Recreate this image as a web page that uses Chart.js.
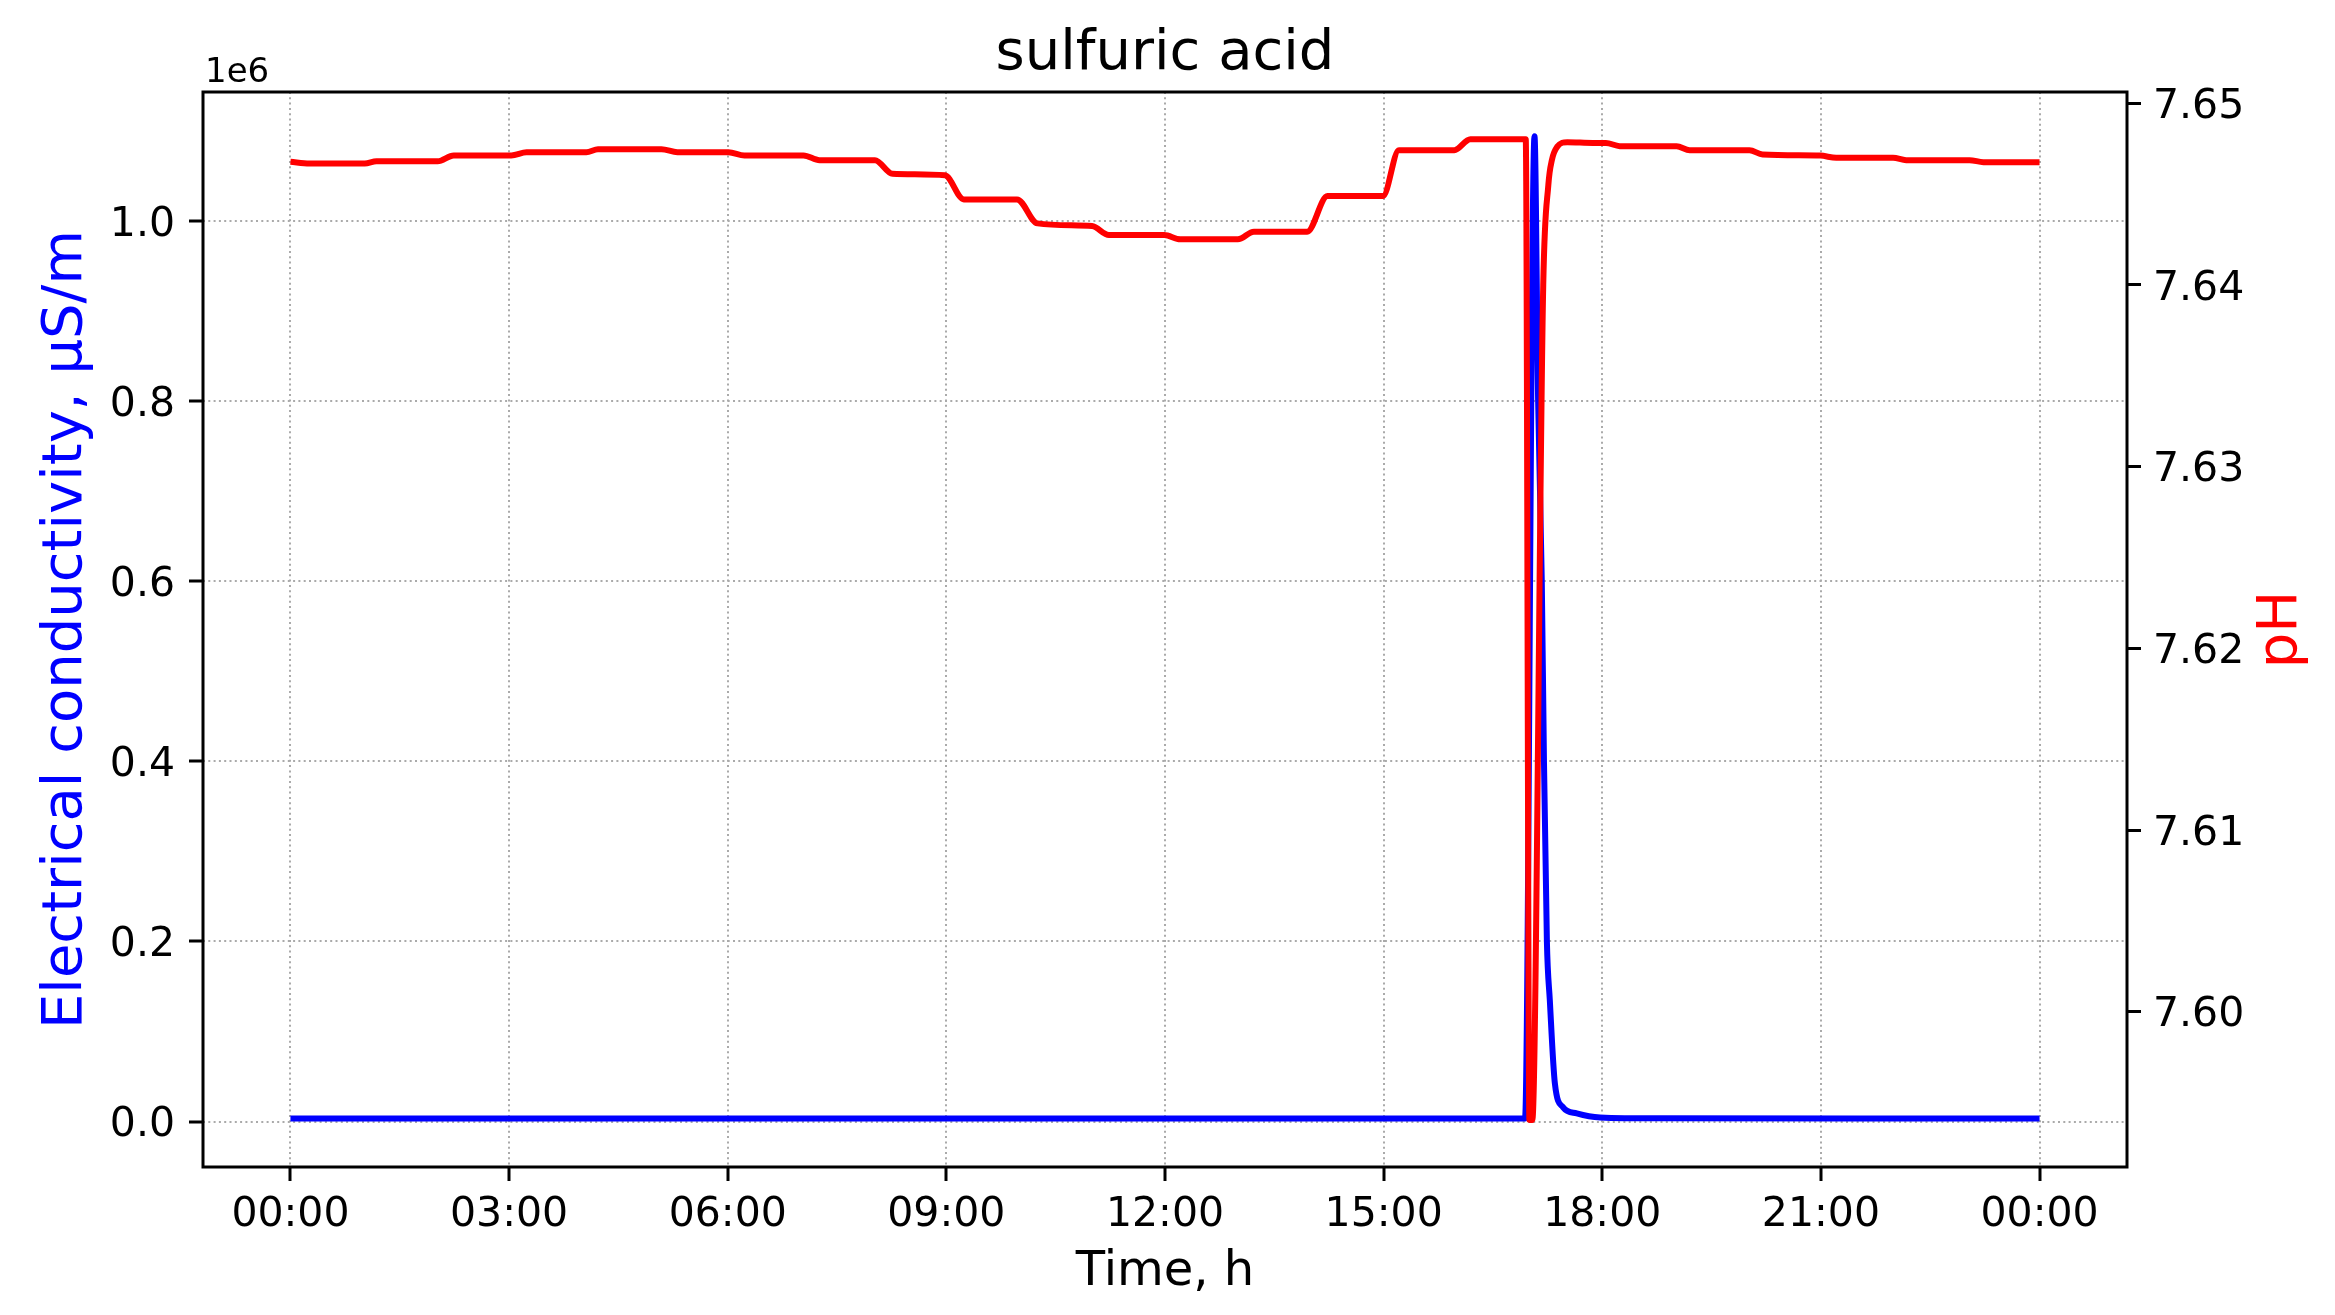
<!DOCTYPE html>
<html>
<head>
<meta charset="utf-8">
<script src="https://cdn.jsdelivr.net/npm/chart.js@4/dist/chart.umd.min.js"></script>
<style>
  html, body { margin: 0; padding: 0; background: #fff; }
  canvas { display: block; }
</style>
</head>
<body>
<canvas id="chart" width="2335" height="1315"></canvas>
<script>
// time of day in hours
const ecHours = [0, 16.94, 17.07, 17.12, 17.17, 17.20, 17.24, 17.28, 17.35, 17.46, 17.65, 17.97, 18.80, 24];
// electrical conductivity, µS/m
const ecValues = [3300, 3300, 1094000, 800000, 600000, 400000, 200000, 135000, 42000, 16000, 9000, 4500, 3500, 3400];

const phHours = [
  0, 0.26, 1.02, 1.18, 2.02, 2.24, 3.03, 3.24, 4.06, 4.22, 5.09, 5.31, 6.01, 6.23, 7.04, 7.26, 8.02, 8.26,
  8.98, 9.24, 9.97, 10.25, 11.00, 11.23, 11.99, 12.21, 13.00, 13.22, 13.95, 14.23, 14.99, 15.21, 15.97, 16.19,
  16.95, 17.00, 17.04, 17.19, 17.26, 17.31, 17.38, 17.52, 17.87, 18.05, 18.24, 19.02, 19.20, 20.02, 20.20,
  20.99, 21.21, 21.99, 22.17, 23.04, 23.23, 24
];
const phValues = [
  7.64678, 7.64669, 7.64669, 7.64681, 7.64681, 7.64713, 7.64713, 7.64731, 7.64731, 7.64747, 7.64747, 7.64731,
  7.64731, 7.64713, 7.64713, 7.64687, 7.64687, 7.64612,
  7.64604, 7.64471, 7.64471, 7.64339, 7.64324, 7.64275, 7.64275, 7.64251, 7.64251, 7.64293, 7.64293, 7.64489,
  7.64489, 7.64742, 7.64742, 7.64802,
  7.64802, 7.59405, 7.59405, 7.64000, 7.64550, 7.64690, 7.64760, 7.64786, 7.64782, 7.64782, 7.64764, 7.64764,
  7.64742, 7.64742, 7.64718,
  7.64712, 7.64700, 7.64700, 7.64687, 7.64687, 7.64676, 7.64676
];

const xTicks = [0, 3, 6, 9, 12, 15, 18, 21, 24];
const ecTicks = [0, 200000, 400000, 600000, 800000, 1000000];
const phTicks = [7.60, 7.61, 7.62, 7.63, 7.64, 7.65];

const FONT = 'DejaVu Sans';
const hhmm = v => String(v % 24).padStart(2, '0') + ':00';

const decor = {
  id: 'decor',
  afterDatasetsDraw(chart) {
    const { ctx, chartArea: a } = chart;
    ctx.save();
    ctx.strokeStyle = '#000';
    ctx.lineWidth = 3;
    ctx.strokeRect(a.left, a.top, a.right - a.left, a.bottom - a.top);
    ctx.restore();
  },
  afterDraw(chart) {
    const { ctx, chartArea: a } = chart;
    ctx.save();
    ctx.fillStyle = '#000';
    ctx.textAlign = 'center';
    ctx.textBaseline = 'alphabetic';
    ctx.font = `56px "${FONT}"`;
    ctx.fillText('sulfuric acid', (a.left + a.right) / 2, 69);

    ctx.textAlign = 'left';
    ctx.font = `34px "${FONT}"`;
    ctx.fillText('1e6', a.left + 2, 82);

    // right axis label, reads bottom to top like the original
    ctx.translate(2281, (a.top + a.bottom) / 2);
    ctx.rotate(-Math.PI / 2);
    ctx.textAlign = 'center';
    ctx.textBaseline = 'middle';
    ctx.fillStyle = '#ff0000';
    ctx.font = `56px "${FONT}"`;
    ctx.fillText('pH', 0, 0);
    ctx.restore();
  }
};

const tickGrid = { tickLength: 14, tickColor: '#000', tickWidth: 3 };

new Chart(document.getElementById('chart'), {
  type: 'line',
  data: {
    datasets: [
      {
        label: 'pH',
        data: phHours.map((h, i) => ({ x: h, y: phValues[i] })),
        yAxisID: 'yPh',
        borderColor: '#ff0000',
        borderWidth: 6,
        pointRadius: 0,
        cubicInterpolationMode: 'monotone',
        borderJoinStyle: 'round',
        order: 0
      },
      {
        label: 'EC',
        data: ecHours.map((h, i) => ({ x: h, y: ecValues[i] })),
        yAxisID: 'yEc',
        borderColor: '#0000ff',
        borderWidth: 6,
        pointRadius: 0,
        cubicInterpolationMode: 'monotone',
        borderJoinStyle: 'round',
        order: 1
      }
    ]
  },
  options: {
    responsive: false,
    animation: false,
    devicePixelRatio: 1,
    layout: { padding: { top: 92, left: 0, right: 0, bottom: 0 } },
    plugins: { legend: { display: false }, tooltip: { enabled: false }, title: { display: false } },
    scales: {
      x: {
        type: 'linear',
        min: -1.2, max: 25.2,
        afterBuildTicks: s => { s.ticks = xTicks.map(v => ({ value: v })); },
        afterFit: s => { s.height = 148; },
        ticks: { callback: v => hhmm(v), font: { family: FONT, size: 41 }, color: '#000', padding: 10, autoSkip: false, maxRotation: 0 },
        grid: { color: '#aaaaaa', lineWidth: 2, ...tickGrid },
        border: { display: false, dash: [2, 3.3] },
        title: { display: true, text: 'Time, h', color: '#000', font: { family: FONT, size: 48 }, padding: { top: 0, bottom: 14 } }
      },
      yEc: {
        type: 'linear',
        position: 'left',
        min: -50500, max: 1143200,
        afterBuildTicks: s => { s.ticks = ecTicks.map(v => ({ value: v })); },
        afterFit: s => { s.width = 203; },
        ticks: { callback: v => (v / 1e6).toFixed(1), font: { family: FONT, size: 41 }, color: '#000', padding: 14, labelOffset: 4 },
        grid: { color: '#aaaaaa', lineWidth: 2, ...tickGrid },
        border: { display: false, dash: [2, 3.3] },
        title: { display: true, text: 'Electrical conductivity, µS/m', color: '#0000ff', font: { family: FONT, size: 56 }, padding: { top: 33, bottom: 0 } }
      },
      yPh: {
        type: 'linear',
        position: 'right',
        min: 7.59146, max: 7.65062,
        afterBuildTicks: s => { s.ticks = phTicks.map(v => ({ value: v })); },
        afterFit: s => { s.width = 208; },
        ticks: { callback: v => v.toFixed(2), font: { family: FONT, size: 41 }, color: '#000', padding: 12, labelOffset: 4 },
        grid: { drawOnChartArea: false, ...tickGrid },
        border: { display: false }
      }
    }
  },
  plugins: [decor]
});
</script>
</body>
</html>
